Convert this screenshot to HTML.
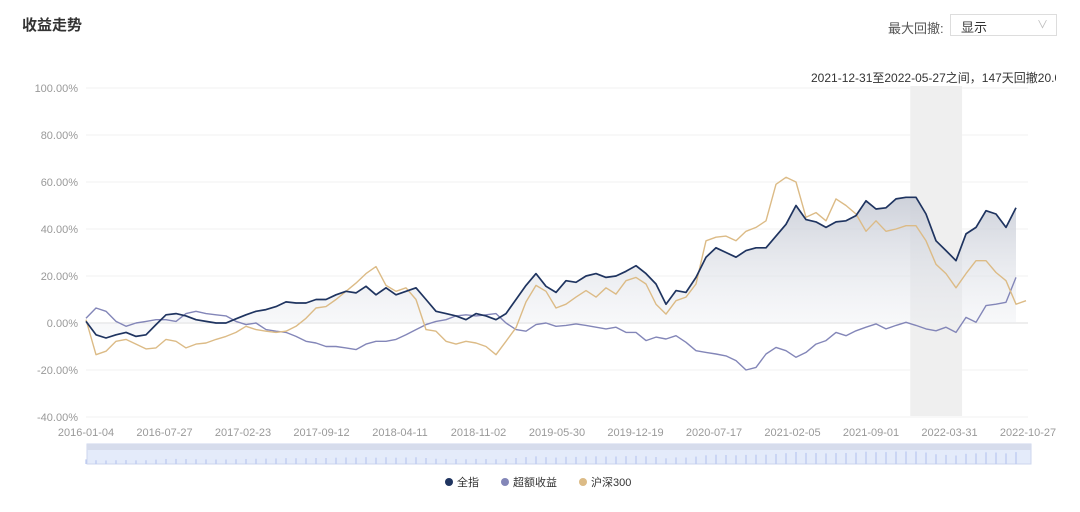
<!DOCTYPE html>
<html><head><meta charset="utf-8"><style>
body{margin:0;background:#fff;font-family:"Liberation Sans","Noto Sans CJK SC",sans-serif;}
#wrap{position:relative;width:1080px;height:512px;overflow:hidden;}
.title{position:absolute;left:22px;top:14px;font-size:15px;font-weight:bold;color:#333;}
.lbl{position:absolute;left:888px;top:18px;font-size:13px;color:#555;}
.sel{position:absolute;left:950px;top:14px;width:107px;height:22px;border:1px solid #ddd;box-sizing:border-box;font-size:13px;color:#333;padding:2px 10px;}
.sel span{position:absolute;right:8px;top:1px;color:#bbb;font-size:11px;}
.note{position:absolute;left:811px;top:69px;font-size:12px;color:#333;white-space:nowrap;width:245px;overflow:hidden;}
</style></head><body><div id="wrap">
<div class="title">收益走势</div>
<div class="lbl">最大回撤:</div>
<div class="sel">显示<span>∨</span></div>
<div class="note">2021-12-31至2022-05-27之间，147天回撤20.05%</div>
<svg id="c" width="1080" height="512" style="position:absolute;left:0;top:0"></svg>
</div>
<script>
const quanzhi=[0.7,-5,-6.4,-5,-4,-5.7,-5,-0.7,3.5,4,3,1.4,0.7,0,0,1.8,3.5,5,5.7,7,9,8.5,8.5,10,10,12,13.5,12.8,15.6,12,15,12,13.5,15,10,5,4,3,1.4,4,3,1.4,4,10,16,21,15.6,13,
18,17.3,20,21,19.4,20,22,24.4,21,16.6,8,13.8,13,19.4,28,32,30,28,30.8,32,32,37,42,50,44,43,40.7,43,43.5,45.7,52,48.5,49,52.8,53.5,53.5,46.4,35,30.8,26.5,37.9,40.7,47.8,46.4,40.7,49];
const excess=[2,6.4,5,0.7,-1.4,0,0.7,1.4,1.4,0.7,4,5,4,3.5,3,0.7,-0.7,0,-2.8,-3.5,-4,-5.7,-7.8,-8.5,-10,-10,-10.6,-11.3,-9,-7.8,-7.8,-7,-5,-2.8,-0.7,0.7,1.4,3,3.5,3,3.5,4,0,-2.8,-3.5,-0.7,0,-1.4,
-1,-0.4,-1,-1.8,-2.5,-1.8,-4,-4,-7.5,-6,-6.8,-5.4,-8.2,-11.8,-12.5,-13.2,-14,-16,-20,-18.9,-13.2,-10.4,-11.8,-14.6,-12.5,-9,-7.5,-4,-5.4,-3.3,-1.8,-0.4,-2.5,-1,0.3,-1,-2.5,-3.3,-1.8,-4,2.4,0.3,7.4,8,8.8,19.4];
const hs300=[1.4,-13.5,-12,-7.8,-7,-9,-11,-10.6,-7,-7.8,-10.6,-9,-8.5,-7,-5.7,-4,-1.4,-2.8,-3.5,-4,-3.5,-1.4,2,6.4,7,10,13.5,17,21,24,16,13.5,15,10,-2.8,-3.5,-7.8,-9,-7.8,-8.5,-10,-13.5,-7.8,-2,9,16,13.5,6.4,
8,11,13.8,11,15,12.3,18,19.4,16.6,8,3.8,9.5,11,16.6,35,36.5,37,35,39,40.7,43.5,59,62,60,45,47,43.5,52.8,50,46.4,39,43.5,39,40,41.4,41.4,35,25,21,15,21,26.5,26.5,21.5,18,8,9.5];
const yTicks=[100,80,60,40,20,0,-20,-40];
const xLabels=["2016-01-04","2016-07-27","2017-02-23","2017-09-12","2018-04-11","2018-11-02","2019-05-30","2019-12-19","2020-07-17","2021-02-05","2021-09-01","2022-03-31","2022-10-27"];
const ddStart=0.875, ddEnd=0.93;
const svg=document.getElementById('c');const NS='http://www.w3.org/2000/svg';
const X0=86,X1=1028,Y0=323,PER=47/20;
const N=hs300.length;
const y=v=>Y0-v*PER;const xd=i=>X0+(1026-X0)*i/(N-1);const xl=(i,n)=>X0+(X1-X0)*i/(n-1);
function mk(t,a){const e=document.createElementNS(NS,t);for(const k in a)e.setAttribute(k,a[k]);svg.appendChild(e);return e;}
const defs=mk('defs',{});defs.innerHTML='<linearGradient id="g" x1="0" y1="0" x2="0" y2="1"><stop offset="0" stop-color="#c8ccd6" stop-opacity="0.9"/><stop offset="1" stop-color="#eef0f4" stop-opacity="0.3"/></linearGradient>';
yTicks.forEach(v=>{const l=mk('line',{x1:X0,x2:X1,y1:y(v),y2:y(v),stroke:v===0?'#ddd':'#f2f2f2'});

const t=mk('text',{x:78,y:y(v)+4,'text-anchor':'end','font-size':11,fill:'#999'});t.textContent=v.toFixed(2)+'%';
});
const r=mk('rect',{x:X0+(X1-X0)*ddStart,y:86,width:(X1-X0)*(ddEnd-ddStart),height:330,fill:'#efefef'});

xLabels.forEach((s,i)=>{const t=mk('text',{x:xl(i,xLabels.length),y:436,'text-anchor':'middle','font-size':11,fill:'#999'});t.textContent=s;
});
function pts(a){return a.map((v,i)=>xd(i).toFixed(1)+','+y(v).toFixed(1)).join(' ');}
const area=mk('polygon',{points:X0+','+Y0+' '+pts(quanzhi)+' '+xd(quanzhi.length-1)+','+Y0,fill:'url(#g)'});

[[excess,'#8386b8','excess-line',1.4],[hs300,'#dcbb86','hs300-line',1.4],[quanzhi,'#1f3460','quanzhi-line',1.7]].forEach(([a,c,n,w])=>{
const p=mk('polyline',{points:pts(a),fill:'none',stroke:c,'stroke-width':w,'stroke-linejoin':'round'});
});
const s=mk('rect',{x:87,y:444,width:944,height:20,fill:'#e4ebfa',stroke:'#cdd6ee'});

mk('rect',{x:87,y:444,width:944,height:6,fill:'#d6dcec'});
quanzhi.forEach((v,i)=>{const h=3+(v+10)*0.15;const b=mk('rect',{x:xd(i)-0.6,y:464-h,width:1.2,height:h,fill:'#b8c6f0'});
});
[['全指','#1f3460',455],['超额收益','#8386b8',511],['沪深300','#dcbb86',589]].forEach(([t,c,x])=>{
const d=mk('circle',{cx:x-6,cy:482,r:4,fill:c});
const e=mk('text',{x:x+2,y:486,'font-size':11,fill:'#333'});e.textContent=t;
});
</script></body></html>
